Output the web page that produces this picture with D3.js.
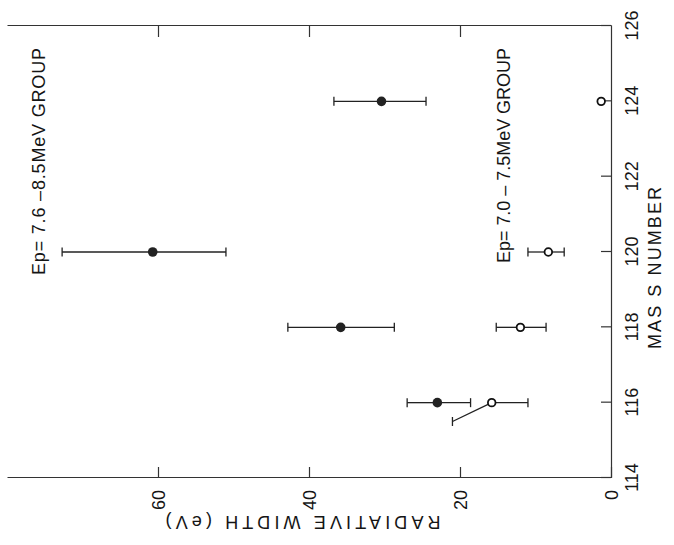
<!DOCTYPE html>
<html>
<head>
<meta charset="utf-8">
<script src="https://cdn.jsdelivr.net/npm/d3@7"></script>
<style>
  body { margin: 0; background: white; }
  svg text { font-family: "Liberation Sans", Arial, sans-serif; fill: #151515; }
</style>
</head>
<body>
<div id="chart"></div>
<script>
// tick values
const massTicks = [114, 116, 118, 120, 122, 124, 126];
const widthTicks = [0, 20, 40, 60];

// Ep = 7.6 - 8.5 MeV group (filled dots), widths in eV
const massHigh = [116, 118, 120, 124];
const widthHigh = [23.0, 35.8, 60.7, 30.4];
const errLoHigh = [18.6, 28.7, 51.0, 24.5];
const errHiHigh = [27.0, 42.8, 72.7, 36.7];

// Ep = 7.0 - 7.5 MeV group (open dots)
const massLow = [116, 118, 120, 124];
const widthLow = [15.8, 12.0, 8.3, 1.3];
const errLoLow = [11.0, 8.6, 6.2, null];
const errHiLow = [21.0, 15.2, 11.0, null];
const errHiLowMass = [115.5, 118, 120, null]; // first upper bar is drawn slanted

const W = 674, H = 545;
const plotW = 452, plotH = 604; // size of the plot before it is turned

const svg = d3.select('#chart')
  .append('svg')
  .attr('width', W)
  .attr('height', H)
  .style('background-color', 'white');

// draw the plot upright, then turn it a quarter turn counter-clockwise
const g = svg.append('g')
  .attr('transform', `translate(611,478) rotate(-90) translate(0,${-plotH})`);

const x = d3.scaleLinear().domain([114, 126]).range([0, plotW]);
const y = d3.scaleLinear().domain([0, 80]).range([plotH, 0]);

const ink = '#222';

// mass number axis
const ax = g.append('g')
  .attr('transform', `translate(0,${plotH})`)
  .call(d3.axisBottom(x).tickValues(massTicks).tickSizeInner(-10).tickSizeOuter(0).tickFormat(d3.format('d')));
ax.selectAll('text')
  .attr('y', 21)
  .attr('dy', '0.35em')
  .style('font-size', '18px');

// radiative width axis
const ay = g.append('g')
  .call(d3.axisLeft(y).tickValues(widthTicks).tickSizeInner(-11).tickSizeOuter(0));
ay.selectAll('text')
  .attr('x', -12)
  .attr('dy', '0.35em')
  .style('font-size', '18px');

// opposite side, ticks only
const ay2 = g.append('g')
  .attr('transform', `translate(${plotW},0)`)
  .call(d3.axisRight(y).tickValues([20, 40, 60]).tickSizeInner(-11).tickSizeOuter(0).tickFormat(''));

[ax, ay, ay2].forEach(a => {
  a.selectAll('path, line').attr('stroke', '#333').attr('stroke-width', 1.2);
});

const cap = 4.5;
const bars = g.append('g').attr('stroke', ink).attr('stroke-width', 1.3).attr('fill', 'none');

function bar(m0, w0, m1, w1) {
  bars.append('line')
    .attr('x1', x(m0)).attr('y1', y(w0))
    .attr('x2', x(m1)).attr('y2', y(w1));
  bars.append('line')
    .attr('x1', x(m1) - cap).attr('y1', y(w1))
    .attr('x2', x(m1) + cap).attr('y2', y(w1));
}

massHigh.forEach((m, i) => {
  bar(m, widthHigh[i], m, errLoHigh[i]);
  bar(m, widthHigh[i], m, errHiHigh[i]);
});

massLow.forEach((m, i) => {
  if (errLoLow[i] != null) bar(m, widthLow[i], m, errLoLow[i]);
  if (errHiLow[i] != null) bar(m, widthLow[i], errHiLowMass[i], errHiLow[i]);
});

// filled dots
g.selectAll('circle.high')
  .data(massHigh)
  .join('circle')
    .attr('class', 'high')
    .attr('cx', d => x(d))
    .attr('cy', (d, i) => y(widthHigh[i]))
    .attr('r', 4.8)
    .attr('fill', ink);

// open dots
g.selectAll('circle.low')
  .data(massLow)
  .join('circle')
    .attr('class', 'low')
    .attr('cx', d => x(d))
    .attr('cy', (d, i) => y(widthLow[i]))
    .attr('r', 3.8)
    .attr('fill', 'white')
    .attr('stroke', '#111')
    .attr('stroke-width', 1.8);

// titles
g.append('text')
  .attr('x', 210)
  .attr('y', plotH + 44)
  .attr('text-anchor', 'middle')
  .attr('dominant-baseline', 'central')
  .attr('textLength', 162)
  .attr('lengthAdjust', 'spacing')
  .style('font-size', '18px')
  .text('MAS S NUMBER');

g.append('text')
  .attr('transform', 'translate(-44,296) rotate(-90)')
  .attr('text-anchor', 'middle')
  .attr('dominant-baseline', 'central')
  .attr('textLength', 275)
  .attr('lengthAdjust', 'spacing')
  .style('font-size', '18px')
  .text('RADIATIVE WIDTH (eV)');

// group labels
g.append('text')
  .attr('x', 203)
  .attr('y', 32)
  .attr('dominant-baseline', 'central')
  .attr('textLength', 227)
  .attr('lengthAdjust', 'spacing')
  .style('font-size', '18px')
  .text('Ep= 7.6 \u20138.5MeV  GROUP');

g.append('text')
  .attr('x', 215)
  .attr('y', 497)
  .attr('dominant-baseline', 'central')
  .attr('textLength', 215)
  .attr('lengthAdjust', 'spacing')
  .style('font-size', '18px')
  .text('Ep= 7.0 \u2013 7.5MeV  GROUP');
</script>
</body>
</html>
